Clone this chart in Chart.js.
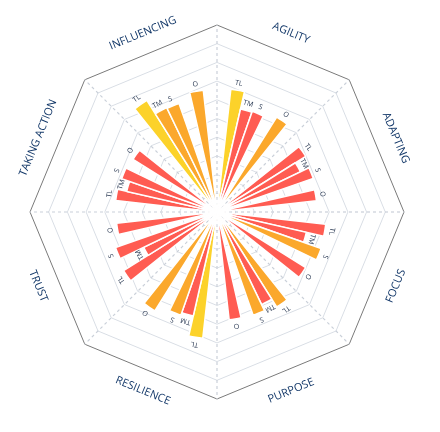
<!DOCTYPE html>
<html>
<head>
<meta charset="utf-8">
<script src="https://cdn.jsdelivr.net/npm/chart.js@4.4.1/dist/chart.umd.min.js"></script>
<style>
  html, body { margin: 0; padding: 0; background: #ffffff; }
  #wrap { position: relative; width: 440px; height: 432px; }
  #wrap canvas { position: absolute; left: 0; top: 0; }
</style>
</head>
<body>
<div id="wrap">
  <canvas id="grid" width="440" height="432"></canvas>
  <canvas id="bars" width="440" height="432"></canvas>
</div>
<script>
// Categories, clockwise from the top
const categories = ['AGILITY', 'ADAPTING', 'FOCUS', 'PURPOSE', 'RESILIENCE', 'TRUST', 'TAKING ACTION', 'INFLUENCING'];
const seriesNames = ['TL', 'TM', 'S', 'O'];
// Values per series (scale 0-10)
const TL = [6.6, 5.6, 5.85, 6.0, 6.8, 5.9, 5.45, 7.05];
const TM = [5.65, 4.95, 4.9, 5.5, 5.7, 4.35, 4.95, 6.2];
const S  = [5.7, 5.45, 5.9, 5.85, 5.85, 5.75, 5.4, 6.15];
const O  = [6.0, 5.35, 5.6, 5.8, 6.25, 5.4, 5.3, 6.55];
// Colour band per bar: Y = yellow, A = amber, R = red
const TL_band = ['Y', 'R', 'R', 'A', 'Y', 'R', 'R', 'Y'];
const TM_band = ['R', 'R', 'R', 'R', 'R', 'R', 'R', 'A'];
const S_band  = ['R', 'R', 'A', 'A', 'A', 'R', 'R', 'A'];
const O_band  = ['A', 'R', 'R', 'R', 'A', 'R', 'R', 'A'];
const scaleMax = 10;

const bandColor = { Y: '#FCD22A', A: '#FBA82C', R: '#FF5C52' };
const seriesVals = [TL, TM, S, O];
const seriesBands = [TL_band, TM_band, S_band, O_band];
// slot layout inside each category: gap, TL, TM, S, gap, O, gap
const slotPattern = [null, 0, 1, 2, null, 3, null];

const slotLabels = [], slotValues = [], slotColors = [], slotTags = [];
categories.forEach((cat, ci) => {
  slotPattern.forEach((si) => {
    if (si === null) {
      slotLabels.push(''); slotValues.push(0); slotColors.push('rgba(0,0,0,0)'); slotTags.push('');
    } else {
      slotLabels.push(cat + ' ' + seriesNames[si]);
      slotValues.push(seriesVals[si][ci]);
      slotColors.push(bandColor[seriesBands[si][ci]]);
      slotTags.push(seriesNames[si]);
    }
  });
});

const pad = { left: 30, top: 25, right: 35, bottom: 32 };
const labelColor = '#123768';

// Octagonal grid
new Chart(document.getElementById('grid'), {
  type: 'radar',
  data: { labels: categories.map(() => ''), datasets: [{ data: categories.map(() => 0), pointRadius: 0, borderWidth: 0, backgroundColor: 'rgba(0,0,0,0)' }] },
  options: {
    responsive: false,
    animation: false,
    layout: { padding: pad },
    plugins: { legend: { display: false }, tooltip: { enabled: false } },
    scales: {
      r: {
        min: 0, max: scaleMax,
        ticks: { display: false, stepSize: 1 },
        pointLabels: { display: false },
        grid: {
          circular: false,
          color: (ctx) => ctx.tick && ctx.tick.value === scaleMax ? '#7a7a7a' : '#d9dee5',
          lineWidth: 1
        },
        angleLines: { color: '#cad0d9', lineWidth: 1.2, borderDash: [3, 3] }
      }
    }
  }
});

const labelPlugin = {
  id: 'labels',
  afterDatasetsDraw(chart) {
    const ctx = chart.ctx;
    const sc = chart.scales.r;
    const cx = sc.xCenter, cy = sc.yCenter;
    const R = sc.getDistanceFromCenterForValue(scaleMax);
    // small series tags at each bar tip
    const meta = chart.getDatasetMeta(0);
    ctx.save();
    ctx.fillStyle = '#1f2f4a';
    ctx.font = '7px "Open Sans", sans-serif';
    ctx.textAlign = 'center';
    ctx.textBaseline = 'middle';
    meta.data.forEach((arc, i) => {
      if (!slotTags[i]) return;
      const mid = (arc.startAngle + arc.endAngle) / 2;
      const r = arc.outerRadius + 7;
      ctx.save();
      ctx.translate(cx + Math.cos(mid) * r, cy + Math.sin(mid) * r);
      ctx.rotate(mid + Math.PI / 2);
      ctx.fillText(slotTags[i], 0, 0);
      ctx.restore();
    });
    // category names along the octagon edges
    ctx.fillStyle = labelColor;
    ctx.font = '11px "Open Sans", sans-serif';
    categories.forEach((cat, ci) => {
      const deg = ci * 45 + 22.5;
      const a = deg * Math.PI / 180;
      const d = R * 1.035;
      let rot = a;
      if (deg > 90 && deg < 270) rot = a - Math.PI;
      ctx.save();
      ctx.translate(cx + Math.sin(a) * d, cy - Math.cos(a) * d);
      ctx.rotate(rot);
      ctx.fillText(cat, 0, 0);
      ctx.restore();
    });
    ctx.restore();
  }
};

new Chart(document.getElementById('bars'), {
  type: 'polarArea',
  data: {
    labels: slotLabels,
    datasets: [{
      data: slotValues,
      backgroundColor: slotColors,
      borderColor: '#ffffff',
      borderWidth: (c) => c.raw ? 1.5 : 0
    }]
  },
  options: {
    responsive: false,
    animation: false,
    layout: { padding: pad },
    plugins: { legend: { display: false }, tooltip: { enabled: false } },
    scales: {
      r: { min: 0, max: scaleMax, display: false, ticks: { display: false } }
    }
  },
  plugins: [labelPlugin]
});
</script>
</body>
</html>
